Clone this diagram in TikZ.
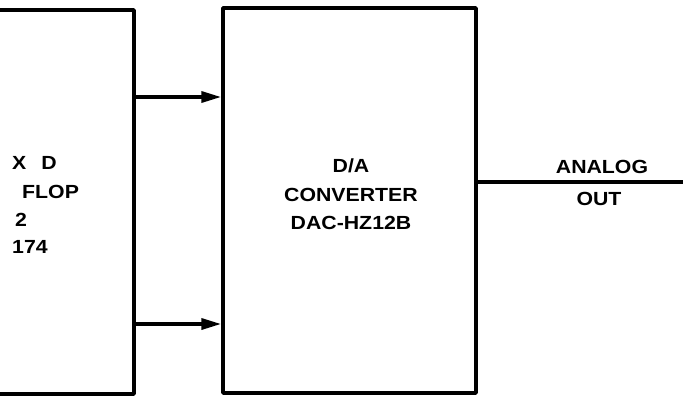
\documentclass[tikz,border=0pt]{standalone}
\usepackage{fontspec}
\setmainfont[FakeStretch=1.12]{Liberation Sans}
\usepackage{tikz}
\usetikzlibrary{arrows.meta,positioning,calc}

\begin{document}
\begin{tikzpicture}[x=1pt,y=-1pt,
  blk/.style={draw,line width=3.5pt,line join=round,inner sep=0pt,minimum width=253pt,minimum height=385pt},
  wire/.style={line width=3.5pt},
  sig/.style={wire,-{Triangle[length=20pt,width=11pt]}},
  lbl/.style={font=\fontsize{19}{28.5}\selectfont\bfseries,inner sep=0pt,align=center}]
  \clip (0,0) rectangle (683,397);

  % Register block (cut off at the left)
  \node[blk,minimum width=260pt,minimum height=384pt] (reg) at (4,202) {};
  \node[lbl,anchor=west] (reg1) at (12,163) {X\hspace{15pt}D};
  \node[lbl,anchor=west] (reg2) at (22,192) {FLOP};
  \node[lbl,anchor=west] (reg3) at (15,220) {2};
  \node[lbl,anchor=west] (reg4) at (12,247) {174};

  % D/A converter
  \node[blk] (dac) at (349.5,200.5) {};
  \node[lbl] (dactxt) at (351,194.5) {D/A\\CONVERTER\\DAC-HZ12B};

  % Data lines
  \draw[sig] (reg.east |- 0,97) -- (dac.west |- 0,97);
  \draw[sig] (reg.east |- 0,324) -- (dac.west |- 0,324);

  % Analog output
  \coordinate (aout) at (683,182);
  \draw[wire] (dac.east |- aout) -- (aout);
  \node[lbl] (alabel) at (602,166.5) {ANALOG};
  \node[lbl] (olabel) at (599,198.5) {OUT};
\end{tikzpicture}
\end{document}
